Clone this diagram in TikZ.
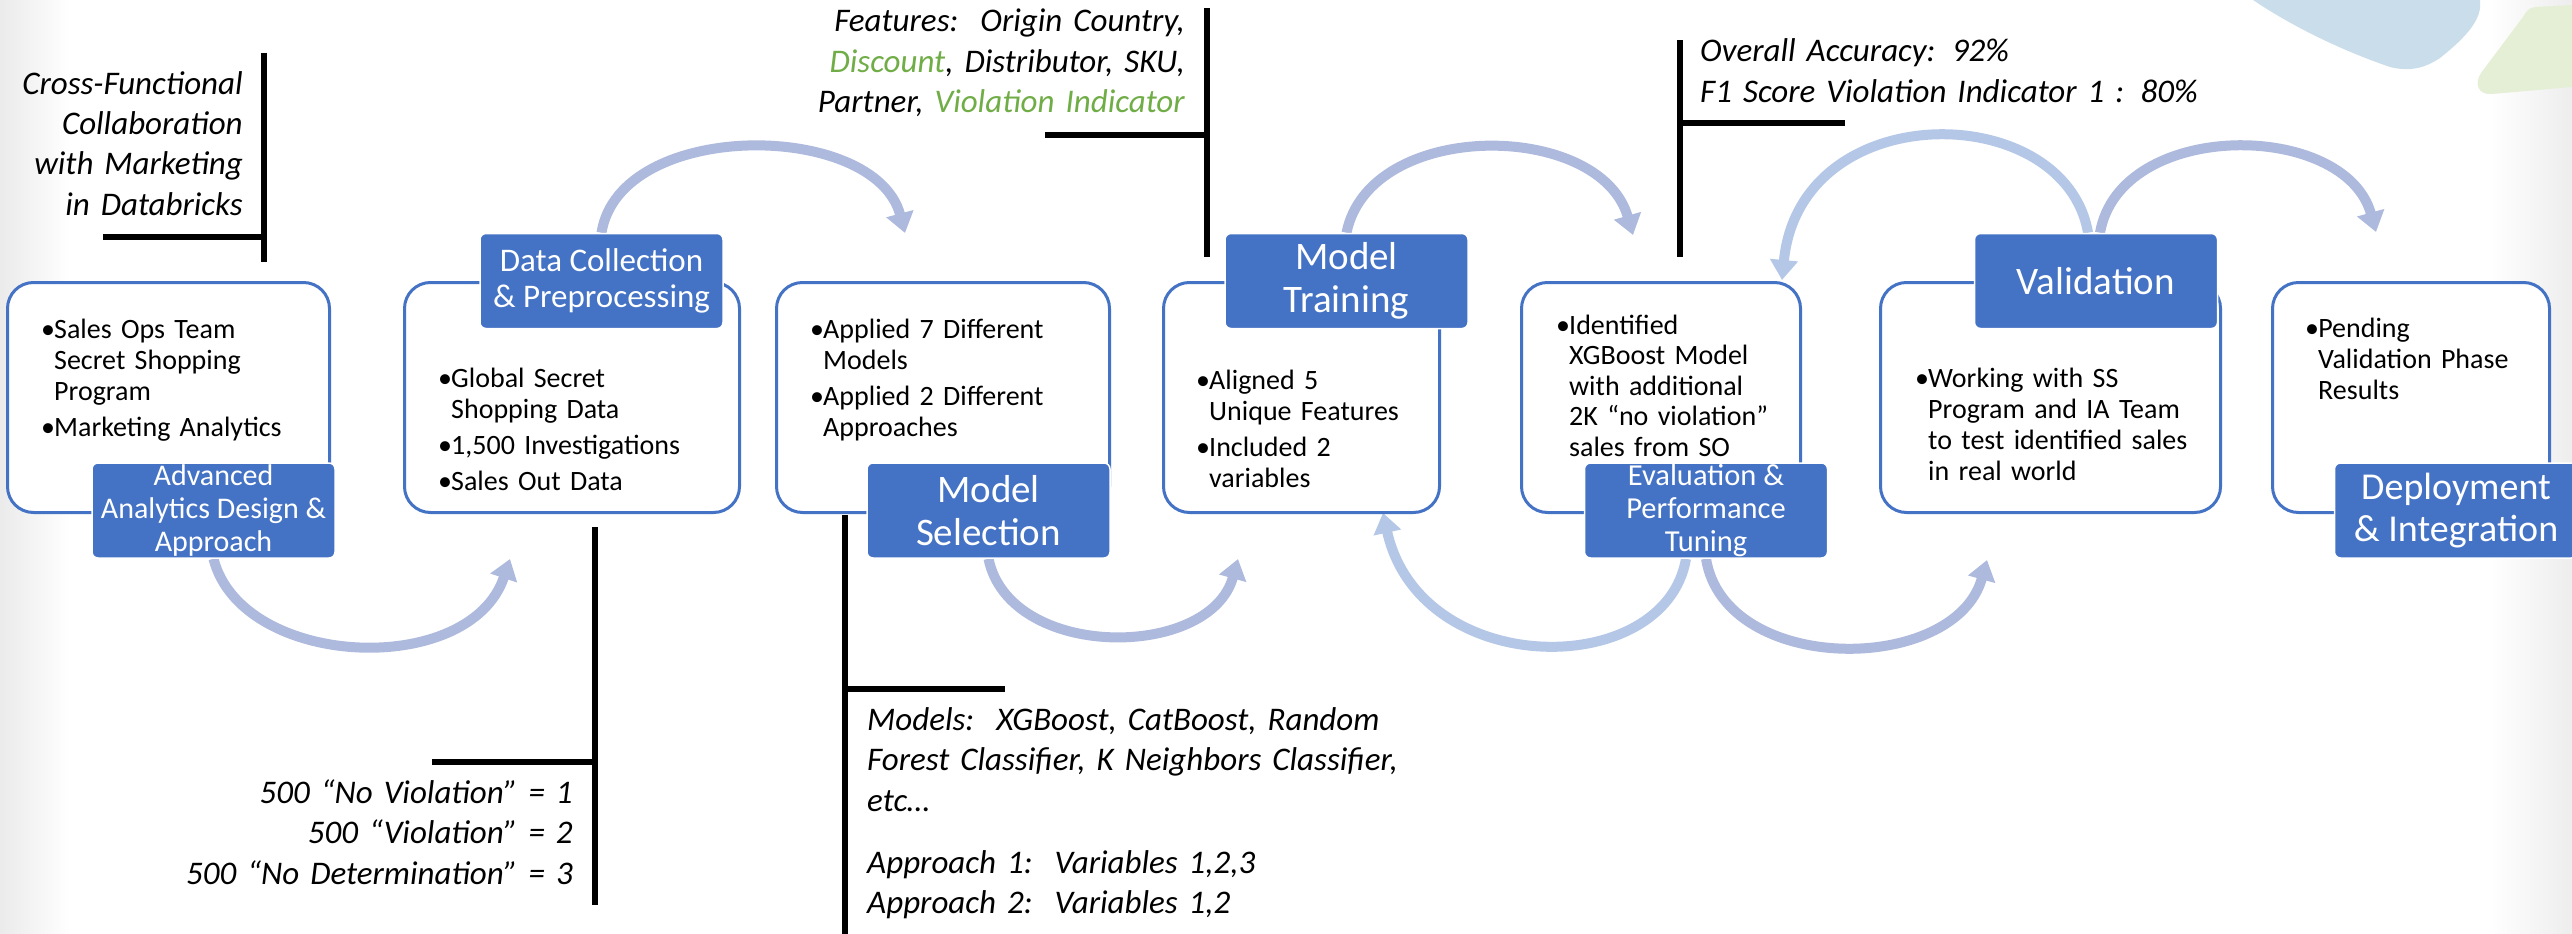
\documentclass[tikz,border=0pt]{standalone}
\usepackage{fontspec}
\setmainfont{Carlito}
\usetikzlibrary{arrows.meta}

\definecolor{accent}{RGB}{68,114,196}
\definecolor{flowA}{RGB}{174,186,221}
\definecolor{flowB}{RGB}{180,199,231}
\definecolor{keyword}{RGB}{112,173,71}
\definecolor{decoBlue}{RGB}{201,222,234}
\definecolor{decoGreen}{RGB}{228,239,213}

\newcommand{\itembul}{\makebox[13pt][l]{\textbullet}}
\newcommand{\itemind}{\hspace*{13pt}}

\pgfdeclarelayer{back}
\pgfdeclarelayer{flows}
\pgfsetlayers{back,flows,main}

\tikzset{
  stagebox/.style={draw=accent, line width=3pt, fill=white, rounded corners=26pt,
    anchor=north west, minimum height=230pt, inner sep=0pt},
  stagelabel/.style={fill=accent, draw=white, line width=1.5pt, rounded corners=6pt,
    minimum width=243pt, minimum height=95pt, text=white, align=center, inner sep=0pt},
  bodytext/.style={anchor=base west, inner sep=0pt, align=left, text width=330pt,
    font=\fontsize{28}{31}\selectfont},
  note/.style={inner sep=0pt, text width=620pt, font=\itshape\fontsize{33}{40.5}\selectfont},
  notebar/.style={line width=5.5pt, black},
  flow/.style={line width=10pt, -{Triangle[length=20pt,width=27pt]}},
}

\begin{document}
\begin{tikzpicture}[x=1pt,y=-1pt]
\useasboundingbox (0,0) rectangle (2572,934);

\begin{pgfonlayer}{back}
  \fill[white] (0,0) rectangle (2572,934);
  \shade[left color=black!8, right color=white] (0,0) rectangle (70,934);
  \shade[left color=white, right color=black!7] (2490,0) rectangle (2572,934);
  % corner ornaments
  \fill[decoBlue] (2253,0) .. controls (2290,25) and (2340,50) .. (2390,67)
    .. controls (2410,72) and (2425,68) .. (2440,58)
    .. controls (2460,42) and (2478,25) .. (2480,8) -- (2480,0) -- cycle;
  \fill[decoGreen] (2572,5) -- (2535,7) .. controls (2528,8) and (2526,12) .. (2523,17)
    -- (2481,73) .. controls (2474,84) and (2478,95) .. (2492,94) -- (2572,87) -- cycle;
\end{pgfonlayer}

% stage boxes
\node[stagebox, minimum width=322pt] (b1) at (6,281) {};
\node[stagebox, minimum width=335pt] (b2) at (403,281) {};
\node[stagebox, minimum width=333pt] (b3) at (775,281) {};
\node[stagebox, minimum width=276pt] (b4) at (1162,281) {};
\node[stagebox, minimum width=279pt] (b5) at (1520,281) {};
\node[stagebox, minimum width=340pt] (b6) at (1879,281) {};
\node[stagebox, minimum width=277pt] (b7) at (2271,281) {};

% stage contents
\node[bodytext] (t1) at (41,338) {\itembul Sales Ops Team\\ \itemind Secret Shopping\\ \itemind Program\\[5pt] \itembul Marketing Analytics};
\node[bodytext] (t2) at (438,387) {\itembul Global Secret\\ \itemind Shopping Data\\[5pt] \itembul 1,500 Investigations\\[5pt] \itembul Sales Out Data};
\node[bodytext] (t3) at (810,338) {\itembul Applied 7 Different\\ \itemind Models\\[5pt] \itembul Applied 2 Different\\ \itemind Approaches};
\node[bodytext] (t4) at (1196,389) {\itembul Aligned 5\\ \itemind Unique Features\\[5pt] \itembul Included 2\\ \itemind variables};
\node[bodytext, font=\fontsize{28}{30.5}\selectfont] (t5) at (1556,334) {\itembul Identified\\ \itemind XGBoost Model\\ \itemind with additional\\ \itemind 2K “no violation”\\ \itemind sales from SO};
\node[bodytext] (t6) at (1915,387) {\itembul Working with SS\\ \itemind Program and IA Team\\ \itemind to test identified sales\\ \itemind in real world};
\node[bodytext] (t7) at (2305,337) {\itembul Pending\\ \itemind Validation Phase\\ \itemind Results};

% stage titles
\node[stagelabel, font=\fontsize{30}{33}\selectfont] (l1) at (213.5,510.5) {Advanced\\Analytics Design \&\\Approach};
\node[stagelabel, font=\fontsize{33}{36.5}\selectfont] (l2) at (601.5,281) {Data Collection\\\& Preprocessing};
\node[stagelabel, font=\fontsize{39}{43}\selectfont] (l3) at (988.5,510.5) {Model\\Selection};
\node[stagelabel, font=\fontsize{39}{43}\selectfont] (l4) at (1346.5,281) {Model\\Training};
\node[stagelabel, font=\fontsize{30.5}{33}\selectfont] (l5) at (1706,510.5) {Evaluation \&\\Performance\\Tuning};
\node[stagelabel, font=\fontsize{39}{43}\selectfont] (l6) at (2096,281) {Validation};
\node[stagelabel, font=\fontsize{38}{42}\selectfont] (l7) at (2456,510.5) {Deployment\\\& Integration};

% flow arrows between stages
\coordinate (tA) at (510,559);
\coordinate (tB) at (905,233);
\coordinate (tC) at (1238,559);
\coordinate (tD) at (1633,235);
\coordinate (tE) at (1383,513);
\coordinate (tF) at (1987,560);
\coordinate (tG) at (1782,280);
\coordinate (tH) at (2376,232);
\begin{pgfonlayer}{flows}
  \draw[flow, flowA] (l1.south) .. controls +(28,110) and +(-40,120) .. (tA);
  \draw[flow, flowA] (l2.north) .. controls +(18,-114) and +(-30,-113) .. (tB);
  \draw[flow, flowA] (l3.south) .. controls +(21,102) and +(-28,101) .. (tC);
  \draw[flow, flowA] (l4.north) .. controls +(23,-114) and +(-33,-115) .. (tD);
  \draw[flow, flowB] ([xshift=-20pt]l5.south) .. controls +(-21,122) and +(37,167) .. (tE);
  \draw[flow, flowA] (l5.south) .. controls +(19,117) and +(-32,115) .. (tF);
  \draw[flow, flowB] ([xshift=-8pt]l6.north) .. controls +(-23,-134) and +(18,-185) .. (tG);
  \draw[flow, flowA] ([xshift=4pt]l6.north) .. controls +(20,-114) and +(-31,-112) .. (tH);
\end{pgfonlayer}

% callout notes
\node[note, anchor=base east, align=right] (n1) at (243,94) {Cross-Functional\\Collaboration\\with Marketing\\in Databricks};
\node[note, anchor=base east, align=right] (n2) at (1185,32) {Features:\ \ Origin Country,\\\textcolor{keyword}{Discount}, Distributor, SKU,\\Partner, \textcolor{keyword}{Violation Indicator}};
\node[note, anchor=base west, align=left] (n3) at (1700,62) {Overall Accuracy: 92\%\\F1 Score Violation Indicator 1 : 80\%};
\node[note, anchor=base east, align=right] (n4) at (573,803) {500 “No Violation” = 1\\500 “Violation” = 2\\500 “No Determination” = 3};
\node[note, anchor=base west, align=left] (n5) at (867,730) {Models:\ \ XGBoost, CatBoost, Random\\Forest Classifier, K Neighbors Classifier,\\etc…\\[21.5pt]Approach 1:\ \ Variables 1,2,3\\Approach 2:\ \ Variables 1,2};

% callout brackets
\draw[notebar] (264,53) -- (264,262);
\draw[notebar] (103,237) -- (264,237);
\draw[notebar] (1207,8) -- (1207,257);
\draw[notebar] (1045,135) -- (1207,135);
\draw[notebar] (1680,40) -- (1680,257);
\draw[notebar] (1680,123) -- (1845,123);
\draw[notebar] (595,527) -- (595,905);
\draw[notebar] (432,762) -- (595,762);
\draw[notebar] (845,515) -- (845,934);
\draw[notebar] (845,689) -- (1005,689);
\end{tikzpicture}
\end{document}
